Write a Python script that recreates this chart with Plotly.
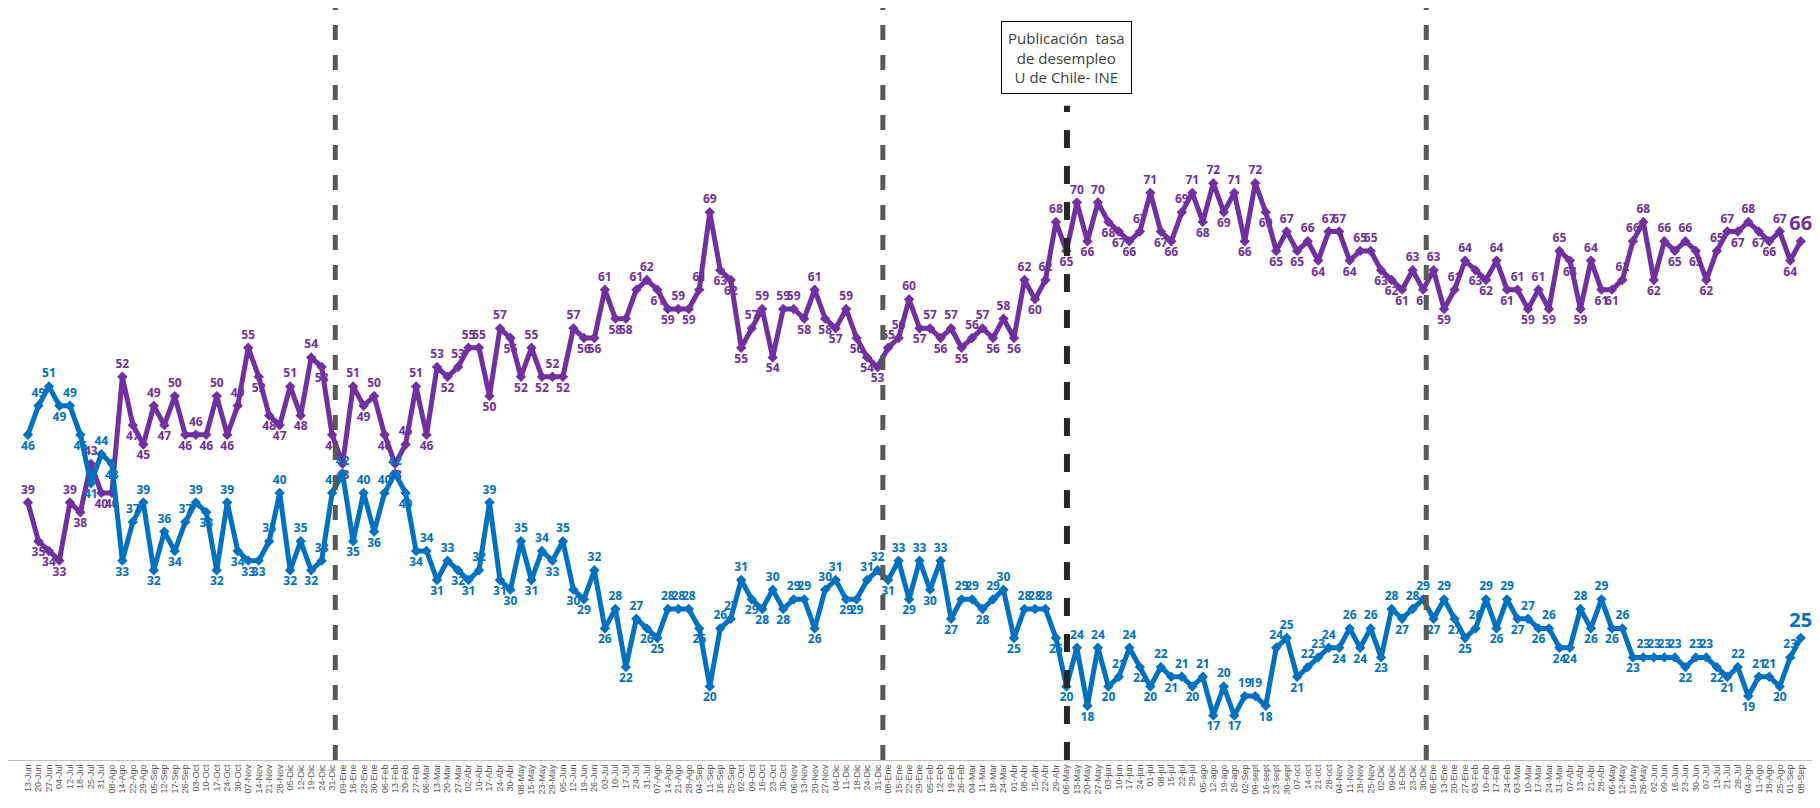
import plotly.graph_objects as go

# fechas (etiquetas del eje x), semana a semana
fechas = [
    "13-Jun", "20-Jun", "27-Jun", "04-Jul", "12-Jul", "18-Jul", "25-Jul", "31-Jul", "08-Ago", "14-Ago",
    "22-Ago", "29-Ago", "05-Sep", "12-Sep", "17-Sep", "26-Sep", "03-Oct", "10-Oct", "17-Oct", "24-Oct",
    "30-Oct", "07-Nov", "14-Nov", "21-Nov", "28-Nov", "05-Dic", "12-Dic", "19-Dic", "24-Dic", "31-Dic",
    "09-Ene", "16-Ene", "23-Ene", "30-Ene", "06-Feb", "13-Feb", "20-Feb", "27-Feb", "06-Mar", "13-Mar",
    "20-Mar", "27-Mar", "02-Abr", "10-Abr", "17-Abr", "24-Abr", "30-Abr", "08-May", "15-May", "23-May",
    "29-May", "05-Jun", "12-Jun", "19-Jun", "26-Jun", "03-Jul", "10-Jul", "17-Jul", "24-Jul", "31-Jul",
    "07-Ago", "14-Ago", "21-Ago", "28-Ago", "04-Sep", "11-Sep", "16-Sep", "25-Sep", "02-Oct", "09-Oct",
    "16-Oct", "23-Oct", "30-Oct", "06-Nov", "13-Nov", "20-Nov", "27-Nov", "04-Dic", "11-Dic", "18-Dic",
    "24-Dic", "31-Dic", "08-Ene", "15-Ene", "22-Ene", "29-Ene", "05-Feb", "12-Feb", "19-Feb", "26-Feb",
    "04-Mar", "11-Mar", "18-Mar", "24-Mar", "01-Abr", "08-Abr", "15-Abr", "22-Abr", "29-Abr", "06-May",
    "13-May", "20-May", "27-May", "03-jun", "10-jun", "17-jun", "24-jun", "01-jul", "08-jul", "15-jul",
    "22-jul", "29-jul", "05-ago", "12-ago", "19-ago", "26-ago", "02-Sep", "09-sept", "16-sept", "23-sept",
    "30-sept", "07-oct", "14-oct", "21-oct", "28-oct", "04-Nov", "11-Nov", "18-Nov", "25-Nov", "02-Dic",
    "09-Dic", "16-Dic", "23-Dic", "30-Dic", "06-Ene", "13-Ene", "20-Ene", "27-Ene", "03-Feb", "10-Feb",
    "17-Feb", "24-Feb", "03-Mar", "10-Mar", "17-Mar", "24-Mar", "31-Mar", "07-Abr", "13-Abr", "21-Abr",
    "28-Abr", "05-May", "12-May", "19-May", "26-May", "02-Jun", "09-Jun", "16-Jun", "23-Jun", "30-Jun",
    "07-Jul", "13-Jul", "21-Jul", "28-Jul", "04-Ago", "11-Ago", "18-Ago", "25-Ago", "01-Sep", "08-Sep",
]

desaprobacion = [
    39, 35, 34, 33, 39, 38, 43, 40, 40, 52, 47, 45, 49, 47, 50, 46, 46, 46, 50, 46,
    49, 55, 52, 48, 47, 51, 48, 54, 53, 46, 43, 51, 49, 50, 46, 43, 45, 51, 46, 53,
    52, 53, 55, 55, 50, 57, 56, 52, 55, 52, 52, 52, 57, 56, 56, 61, 58, 58, 61, 62,
    61, 59, 59, 59, 61, 69, 63, 62, 55, 57, 59, 54, 59, 59, 58, 61, 58, 57, 59, 56,
    54, 53, 55, 56, 60, 57, 57, 56, 57, 55, 56, 57, 56, 58, 56, 62, 60, 62, 68, 65,
    70, 66, 70, 68, 67, 66, 67, 71, 67, 66, 69, 71, 68, 72, 69, 71, 66, 72, 69, 65,
    67, 65, 66, 64, 67, 67, 64, 65, 65, 63, 62, 61, 63, 61, 63, 59, 61, 64, 63, 62,
    64, 61, 61, 59, 61, 59, 65, 64, 59, 64, 61, 61, 62, 66, 68, 62, 66, 65, 66, 65,
    62, 65, 67, 67, 68, 67, 66, 67, 64, 66,
]

aprobacion = [
    46, 49, 51, 49, 49, 46, 41, 44, 43, 33, 37, 39, 32, 36, 34, 37, 39, 38, 32, 39,
    34, 33, 33, 35, 40, 32, 35, 32, 33, 40, 42, 35, 40, 36, 40, 42, 40, 34, 34, 31,
    33, 32, 31, 32, 39, 31, 30, 35, 31, 34, 33, 35, 30, 29, 32, 26, 28, 22, 27, 26,
    25, 28, 28, 28, 26, 20, 26, 27, 31, 29, 28, 30, 28, 29, 29, 26, 30, 31, 29, 29,
    31, 32, 31, 33, 29, 33, 30, 33, 27, 29, 29, 28, 29, 30, 25, 28, 28, 28, 25, 20,
    24, 18, 24, 20, 21, 24, 22, 20, 22, 21, 21, 20, 21, 17, 20, 17, 19, 19, 18, 24,
    25, 21, 22, 23, 24, 24, 26, 24, 26, 23, 28, 27, 28, 29, 27, 29, 27, 25, 26, 29,
    26, 29, 27, 27, 26, 26, 24, 24, 28, 26, 29, 26, 26, 23, 23, 23, 23, 23, 22, 23,
    23, 22, 21, 22, 19, 21, 21, 20, 23, 25,
]

PURPLE = "#7030A0"
BLUE = "#0070C0"
x = list(range(len(fechas)))


def label_positions(vals):
    pos = []
    for i, v in enumerate(vals):
        prev = vals[i - 1] if i > 0 else v
        nxt = vals[i + 1] if i < len(vals) - 1 else v
        pos.append("bottom center" if v < prev or v < nxt and v <= prev else "top center")
    pos[-1] = "top center"
    return pos


def label_sizes(vals):
    return [12] * (len(vals) - 1) + [20]


fig = go.Figure()
for vals, color in [(desaprobacion, PURPLE), (aprobacion, BLUE)]:
    fig.add_trace(go.Scatter(
        x=x, y=vals, mode="lines+markers+text",
        line=dict(color=color, width=5),
        marker=dict(symbol="diamond", size=8, color=color),
        text=[str(v) for v in vals],
        textposition=label_positions(vals),
        textfont=dict(color=color, size=label_sizes(vals), family="Open Sans", weight="bold"),
        cliponaxis=False, showlegend=False,
    ))

# lineas verticales punteadas
for xv in [29.3, 81.5, 133.3]:
    fig.add_shape(type="line", xref="x", yref="paper", x0=xv, x1=xv, y0=0, y1=1,
                  line=dict(color="#595959", width=5, dash="dash"))
fig.add_shape(type="line", xref="x", yref="paper", x0=99.05, x1=99.05, y0=0, y1=0.87,
              line=dict(color="#262626", width=6, dash="dash"))

fig.add_annotation(
    xref="x", yref="paper", x=99.05, y=0.885, yanchor="bottom", showarrow=False,
    text="Publicación  tasa<br>de desempleo<br>U de Chile- INE",
    font=dict(family="Open Sans", size=15, color="#404040"),
    bordercolor="#000000", borderwidth=1, borderpad=6, bgcolor="white",
)

fig.update_layout(
    width=1820, height=808,
    margin=dict(l=0, r=0, t=0, b=56),
    plot_bgcolor="white", paper_bgcolor="white",
    xaxis=dict(range=[-1.9, 171.6], tickmode="array", tickvals=x, ticktext=fechas,
               tickangle=-90, tickfont=dict(size=9, color="#595959", family="Liberation Sans"),
               showgrid=False, zeroline=False, showline=True, linecolor="#bfbfbf", ticks=""),
    yaxis=dict(range=[12.4, 90.1], visible=False),
)

fig.write_html("out.html")
